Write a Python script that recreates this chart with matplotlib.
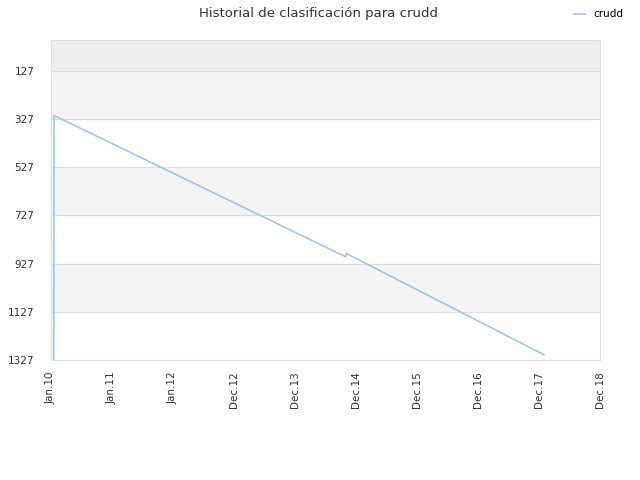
import matplotlib
matplotlib.use('Agg')
from matplotlib import pyplot as plt

# ranking history (x in years from Jan.10, y = position)
years = [0.045, 0.05, 4.83, 4.84, 8.08]
ranks = [1327, 313, 899, 885, 1305]

tick_labels = ['Jan.10', 'Jan.11', 'Jan.12', 'Dec.12', 'Dec.13',
               'Dec.14', 'Dec.15', 'Dec.16', 'Dec.17', 'Dec.18']
y_ticks = [127, 327, 527, 727, 927, 1127, 1327]

fig = plt.figure(figsize=(6.4, 4.8), dpi=100)
ax = fig.add_axes([51/640, 120/480, 549/640, 320/480])

# alternating background bands
ax.axhspan(0, 127, color='#eeeeee', zorder=0)
for i in range(len(y_ticks) - 1):
    if i % 2 == 0:
        ax.axhspan(y_ticks[i], y_ticks[i + 1], color='#f4f4f4', zorder=0)
for y in y_ticks:
    ax.axhline(y, color='#dddddd', lw=0.8, zorder=1)

ax.plot(years, ranks, color='#99c2f0', lw=1.1, label='crudd', zorder=3)

ax.set_xlim(0, 9)
ax.set_ylim(1327, 0)
ax.set_xticks(range(len(tick_labels)))
ax.set_xticklabels(tick_labels, rotation=90)
ax.set_yticks(y_ticks)
ax.tick_params(length=0, labelsize=7.5, colors='#333333')
ax.tick_params(axis='x', pad=8)
ax.tick_params(axis='y', pad=12)
for s in ax.spines.values():
    s.set_color('#dddddd')

fig.suptitle('Historial de clasificación para crudd', x=0.497, y=0.985,
             fontsize=9.5, color='#333333')
fig.legend(loc='upper right', bbox_to_anchor=(0.988, 1.0), frameon=False,
           fontsize=7.5, handlelength=1.0)

fig.savefig('out.png')
